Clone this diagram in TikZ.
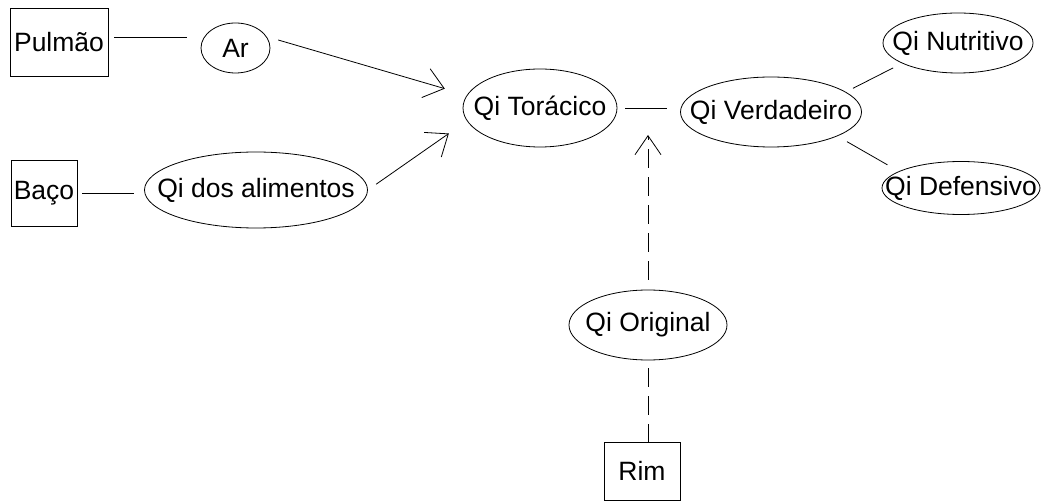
\documentclass[tikz,border=0pt]{standalone}
\usepackage{fontspec}
\setmainfont{Liberation Sans}
\usepackage{tikz}
\usetikzlibrary{calc}
\usetikzlibrary{arrows.meta,shapes.geometric,positioning}
\def\lw{0.8pt}

\begin{document}
\begin{tikzpicture}
    [
        x=1pt, y=-1pt,
        every node/.style={font=\fontsize{26.5}{30}\selectfont, inner sep=0pt},
        organ/.style={draw, rectangle, line width=\lw},
        qi/.style={draw, ellipse, line width=\lw,
            execute at begin node={\hbox to 0pt\bgroup\hss},
            execute at end node={\hss\egroup}},
        link/.style={black, line width=\lw},
        flow/.style={link, -{Straight Barb[length=19pt,width=30pt]}},
        origin/.style={link, dash pattern=on 19pt off 9pt}
    ]
    \useasboundingbox (0,0) rectangle (1041,502);

    % organs
    \node[organ, minimum width=98pt, minimum height=68pt] (pulmao) at (59,42) {Pulmão};
    \node[organ, minimum width=66pt, minimum height=66pt] (baco) at (44,193) {Baço};
    \node[organ, minimum width=76pt, minimum height=58pt] (rim) at (642,471) {Rim};

    % qi
    \node[qi, minimum width=69pt, minimum height=50pt] (ar) at (235.5,48) {Ar};
    \node[qi, minimum width=223pt, minimum height=76pt] (alim) at (256,190) {Qi dos alimentos};
    \node[qi, minimum width=154pt, minimum height=78pt] (tor) at (540,108) {Qi Torácico};
    \node[qi, minimum width=181pt, minimum height=70pt] (ver) at (771,112) {Qi Verdadeiro};
    \node[qi, minimum width=150pt, minimum height=60pt] (nut) at (958,43) {Qi Nutritivo};
    \node[qi, minimum width=158pt, minimum height=53pt] (def) at (961,188) {Qi Defensivo};
    \node[qi, minimum width=158pt, minimum height=70pt] (orig) at (648,325) {Qi Original};

    \coordinate (junc) at ($(tor.east)!0.5!(ver.west)$);

    \draw[link, shorten <=6pt, shorten >=14pt] ([yshift=5pt]pulmao.east) -- ([yshift=5pt]pulmao.east -| ar.west);
    \draw[link, shorten <=5pt, shorten >=10pt] (baco.east) -- (baco.east -| alim.west);
    \draw[flow, shorten <=12pt, shorten >=23pt] (ar.20) -- (tor.170);
    \draw[flow, shorten <=10pt, shorten >=22pt] (alim.east) -- (tor.190);

    \draw[link, shorten <=8pt, shorten >=13pt] (tor.east) -- (tor.east -| ver.west);
    \draw[link, shorten <=8pt, shorten >=10pt] (ver.15) -- (nut.200);
    \draw[link, shorten <=11pt, shorten >=13pt] (ver.-20) -- (def.165);

    % original qi
    \draw[origin, -{Straight Barb[length=19pt,width=26pt]}, shorten <=10pt, shorten >=25pt]
        (orig.north) -- (orig.north |- junc);
    \draw[origin, shorten <=8pt] (orig.south) -- (orig.south |- rim.north);
\end{tikzpicture}
\end{document}
